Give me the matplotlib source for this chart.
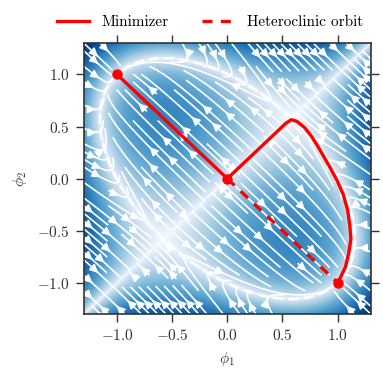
import numpy as np
import matplotlib
matplotlib.use("Agg")
import matplotlib.pyplot as plt
from matplotlib.lines import Line2D

plt.rcParams.update({
    'font.family': 'serif',
    'font.serif': ['cmr10', 'DejaVu Serif'],
    'mathtext.fontset': 'cm',
    'axes.formatter.use_mathtext': True,
    'font.size': 11,
    'axes.unicode_minus': True,
})

# ---- data ----
ticks = [-1.0, -0.5, 0.0, 0.5, 1.0]
lims = [-1.3, 1.3]
fixed_x = [-1.0, 0.0, 1.0]
fixed_y = [1.0, 0.0, -1.0]
min_x = [-1.0, 0.0, 0.53, 0.58, 0.63, 0.70, 0.76, 0.82, 0.88, 0.94, 1.00,
         1.05, 1.09, 1.11, 1.12, 1.10, 1.07, 1.03, 1.0]
min_y = [1.0, 0.0, 0.53, 0.565, 0.55, 0.49, 0.41, 0.31, 0.20, 0.09, -0.03,
         -0.15, -0.30, -0.45, -0.58, -0.72, -0.85, -0.94, -1.0]
het_x = [0.0, 1.0]
het_y = [0.0, -1.0]
loop_a = 1.414   # loop half-width along (1,-1)
loop_b = 0.82    # loop half-width along (1,1)
t_coupling = 0.08

# ---- vector field ----
g = np.linspace(lims[0], lims[1], 300)
X, Y = np.meshgrid(g, g)
S = (X - Y) / np.sqrt(2)
T = (X + Y) / np.sqrt(2)
L = (S / loop_a) ** 2 + (T / loop_b) ** 2 - 1
Fs = -S * L
Ft = -t_coupling * S ** 2 * T / loop_b ** 2
U = (Fs + Ft) / np.sqrt(2)
V = (-Fs + Ft) / np.sqrt(2)

fig = plt.figure(figsize=(3.83, 3.82), dpi=100)
ax = fig.add_axes([0.219, 0.178, 0.749, 0.709])

ax.imshow(np.abs(Fs) ** 0.5, extent=[lims[0], lims[1], lims[0], lims[1]], origin='lower',
          cmap='Blues', vmin=0, vmax=1.1, interpolation='bilinear', aspect='auto')
ax.streamplot(g, g, U, V, color='white', density=1.2, linewidth=1.2, arrowsize=1.2)
cs = ax.contour(X, Y, L, levels=[0], colors='white', linewidths=1.8)
cs.set_linestyle((0, (4, 2)))

ax.plot(min_x, min_y, color='red', lw=2.4, solid_joinstyle='round', solid_capstyle='round')
ax.plot(het_x, het_y, color='red', lw=2.4, ls=(0, (3, 2.5)))
ax.plot(fixed_x, fixed_y, 'o', color='red', ms=6.5)

ax.set_xlim(lims)
ax.set_ylim(lims)
ax.set_xticks(ticks)
ax.set_yticks(ticks)
ax.tick_params(direction='out', length=6, width=1.0, pad=4, top=True, right=True,
               labeltop=False, labelright=False, colors='#333333', labelcolor='#333333')
for sp in ax.spines.values():
    sp.set_linewidth(1.2)
    sp.set_color('#333333')
ax.set_xlabel(r'$\phi_1$', color='#333333', labelpad=5)
ax.set_ylabel(r'$\phi_2$', color='#333333', labelpad=6)

handles = [Line2D([], [], color='red', lw=2.4),
           Line2D([], [], color='red', lw=2.4, ls=(0, (3, 2.5)))]
ax.legend(handles, ['Minimizer', 'Heteroclinic orbit'], loc='lower center',
          bbox_to_anchor=(0.44, 1.0), ncol=2, frameon=False, handlelength=2.1,
          columnspacing=2.2, borderaxespad=0.5)

fig.savefig('out.png', dpi=100)
